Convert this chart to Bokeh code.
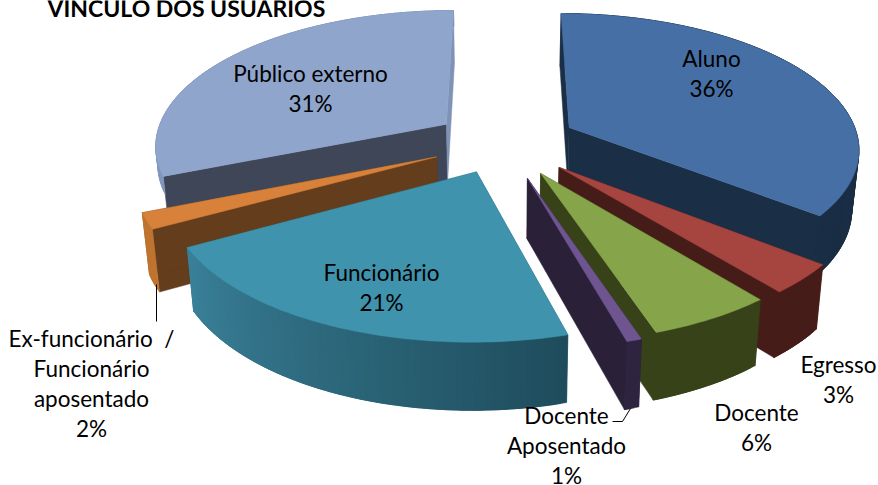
import math
from bokeh.plotting import figure
from bokeh.models import Range1d
from bokeh.core.properties import value
from bokeh.embed import file_html
from bokeh.resources import INLINE

# ---- data (percent of the pie; labels show them rounded)
categories = ["Aluno", "Egresso", "Docente", "Docente Aposentado", "Funcionário",
              "Ex-funcionário / Funcionário aposentado", "Público externo"]
shares = [35.7, 3.45, 5.8, 0.7, 21.3, 1.85, 31.2]
label_lines = [["Aluno"], ["Egresso"], ["Docente"], ["Docente", "Aposentado"], ["Funcionário"],
               ["Ex-funcionário\u00a0\u00a0/", "Funcionário", "aposentado"], ["Público externo"]]
title_text = "VÍNCULO DOS USUÁRIOS"

# ---- styles
top_colors = ["#4670A5", "#A64440", "#86A44A", "#6F5590", "#3F93AD", "#D7813B", "#8FA5CC"]
side_start = ["#1A2E45", "#461C19", "#374219", "#2A2139", "#2A6070", "#643D1C", "#3F4658"]
side_end = ["#1A2E45", "#461C19", "#374219", "#2A2139", "#2A6070", "#643D1C", "#7F93B6"]
wall_start = ["#1A2E45", "#461C19", "#374219", "#2E2440", "#1E4C5C", "#BF7531", "#8197BC"]
wall_end = ["#1A2E45", "#461C19", "#374219", "#2E2440", "#3A8199", "#BF7531", "#8197BC"]
explode = [74, 76, 75, 79, 68, 73, 70]
radius = [290, 292, 292, 292, 295, 292, 292]
wall_depth = [1, 1, 1, 1, 1, 1, 0.3]
draw_order = [6, 0, 5, 1, 2, 3, 4]
label_anchor = [(711, 58), (838, 364), (756, 412), (566, 415), (381, 272), (91, 338), (310, 73)]

# ---- perspective camera
VP_X, VP_Y, CY, D = 503.0, -800.0, 141.5, 2040.0


def project(u, v):
    w = D / (D - v)
    return VP_X + u * w, VP_Y + (CY - VP_Y) * w


def lower(pt, f=1.0):
    x, y = pt
    return x + (VP_X + (x - VP_X) * 0.98 - x) * f, y + (y * 0.047 + 52) * f


def mix(a, b, t):
    ca = [int(a[i:i + 2], 16) for i in (1, 3, 5)]
    cb = [int(b[i:i + 2], 16) for i in (1, 3, 5)]
    return "#%02x%02x%02x" % tuple(round(x + (y - x) * t) for x, y in zip(ca, cb))


total = sum(shares)
edges = [0.0]
for s in shares:
    edges.append(edges[-1] + s / total * 2 * math.pi)

xs, ys, colors = [], [], []


def add(poly, color):
    xs.append([p[0] for p in poly])
    ys.append([p[1] for p in poly])
    colors.append(color)


for i in draw_order:
    a0, a1 = edges[i], edges[i + 1]
    mid = (a0 + a1) / 2
    au, av = explode[i] * math.sin(mid), -explode[i] * math.cos(mid)
    apex = project(au, av)
    n = max(3, int((a1 - a0) * 60))
    rim = []
    for k in range(n + 1):
        t = a0 + (a1 - a0) * k / n
        rim.append(project(au + radius[i] * math.sin(t), av - radius[i] * math.cos(t)))
    add([apex, rim[0], lower(rim[0]), lower(apex)], side_start[i])
    add([apex, rim[-1], lower(rim[-1]), lower(apex)], side_end[i])
    for k in range(n):
        c = mix(wall_start[i], wall_end[i], (k + 0.5) / n)
        seg = rim[k:min(n, k + 3) + 1]
        add(seg + [lower(q, wall_depth[i]) for q in reversed(seg)], c)
    add([apex] + rim, top_colors[i])

p = figure(width=878, height=485, output_backend="svg", toolbar_location=None,
           x_range=Range1d(0, 878), y_range=Range1d(485, 0), min_border=0,
           outline_line_color=None, background_fill_color="white")
p.axis.visible = False
p.grid.visible = False
p.patches(xs, ys, fill_color=colors, line_color=colors, line_width=0.5)

# leader lines
p.line([156, 156], [284, 321], line_color="black", line_width=1)
p.line([612, 622, 630], [421, 421, 408], line_color="black", line_width=1)

# labels
FONT = value("Lato")
tx, ty, tt = [], [], []
for i, lines in enumerate(label_lines):
    ax, ay = label_anchor[i]
    rows = lines + [f"{round(shares[i])}%"]
    for j, row in enumerate(rows):
        tx.append(ax)
        ty.append(ay + j * 30)
        tt.append(row)
p.text(tx, ty, text=tt, text_font=FONT, text_font_size="22.5px", text_color="black",
       text_align="center", text_baseline="middle")
p.text([47], [7], text=[title_text], text_font=FONT, text_font_size="23px", text_font_style="bold",
       text_color="black", text_align="left", text_baseline="alphabetic")

open("out.html", "w").write(file_html(p, INLINE))
